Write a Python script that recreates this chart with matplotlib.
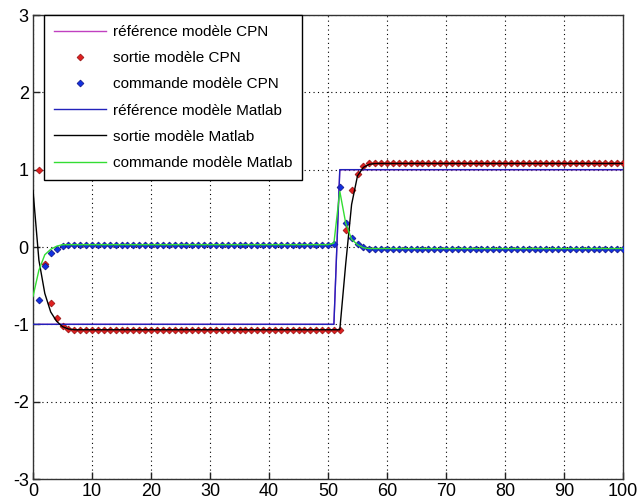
import matplotlib
matplotlib.use("Agg")
import matplotlib.pyplot as plt
import numpy as np

# ---- data ----
t_cpn = list(range(1, 101))
t_mat = list(range(0, 101))

ref_cpn = [-1, -1, -1, -1, -1, -1, -1, -1, -1, -1,
           -1, -1, -1, -1, -1, -1, -1, -1, -1, -1,
           -1, -1, -1, -1, -1, -1, -1, -1, -1, -1,
           -1, -1, -1, -1, -1, -1, -1, -1, -1, -1,
           -1, -1, -1, -1, -1, -1, -1, -1, -1, -1,
           -1, 1, 1, 1, 1, 1, 1, 1, 1, 1,
           1, 1, 1, 1, 1, 1, 1, 1, 1, 1,
           1, 1, 1, 1, 1, 1, 1, 1, 1, 1,
           1, 1, 1, 1, 1, 1, 1, 1, 1, 1,
           1, 1, 1, 1, 1, 1, 1, 1, 1, 1]

sortie_cpn = [1.00, -0.22, -0.72, -0.92, -1.02, -1.06, -1.07, -1.07, -1.07, -1.07,
              -1.07, -1.07, -1.07, -1.07, -1.07, -1.07, -1.07, -1.07, -1.07, -1.07,
              -1.07, -1.07, -1.07, -1.07, -1.07, -1.07, -1.07, -1.07, -1.07, -1.07,
              -1.07, -1.07, -1.07, -1.07, -1.07, -1.07, -1.07, -1.07, -1.07, -1.07,
              -1.07, -1.07, -1.07, -1.07, -1.07, -1.07, -1.07, -1.07, -1.07, -1.07,
              -1.07, -1.07, 0.22, 0.74, 0.95, 1.05, 1.08, 1.08, 1.08, 1.08,
              1.08, 1.08, 1.08, 1.08, 1.08, 1.08, 1.08, 1.08, 1.08, 1.08,
              1.08, 1.08, 1.08, 1.08, 1.08, 1.08, 1.08, 1.08, 1.08, 1.08,
              1.08, 1.08, 1.08, 1.08, 1.08, 1.08, 1.08, 1.08, 1.08, 1.08,
              1.08, 1.08, 1.08, 1.08, 1.08, 1.08, 1.08, 1.08, 1.08, 1.08]

commande_cpn = [-0.69, -0.25, -0.08, -0.02, 0.01, 0.03, 0.03, 0.03, 0.03, 0.03,
                0.03, 0.03, 0.03, 0.03, 0.03, 0.03, 0.03, 0.03, 0.03, 0.03,
                0.03, 0.03, 0.03, 0.03, 0.03, 0.03, 0.03, 0.03, 0.03, 0.03,
                0.03, 0.03, 0.03, 0.03, 0.03, 0.03, 0.03, 0.03, 0.03, 0.03,
                0.03, 0.03, 0.03, 0.03, 0.03, 0.03, 0.03, 0.03, 0.03, 0.03,
                0.04, 0.78, 0.31, 0.11, 0.04, 0.00, -0.02, -0.02, -0.02, -0.02,
                -0.02, -0.02, -0.02, -0.02, -0.02, -0.02, -0.02, -0.02, -0.02, -0.02,
                -0.02, -0.02, -0.02, -0.02, -0.02, -0.02, -0.02, -0.02, -0.02, -0.02,
                -0.02, -0.02, -0.02, -0.02, -0.02, -0.02, -0.02, -0.02, -0.02, -0.02,
                -0.02, -0.02, -0.02, -0.02, -0.02, -0.02, -0.02, -0.02, -0.02, -0.02]

ref_mat = [-1,
           -1, -1, -1, -1, -1, -1, -1, -1, -1, -1,
           -1, -1, -1, -1, -1, -1, -1, -1, -1, -1,
           -1, -1, -1, -1, -1, -1, -1, -1, -1, -1,
           -1, -1, -1, -1, -1, -1, -1, -1, -1, -1,
           -1, -1, -1, -1, -1, -1, -1, -1, -1, -1,
           -1, 1, 1, 1, 1, 1, 1, 1, 1, 1,
           1, 1, 1, 1, 1, 1, 1, 1, 1, 1,
           1, 1, 1, 1, 1, 1, 1, 1, 1, 1,
           1, 1, 1, 1, 1, 1, 1, 1, 1, 1,
           1, 1, 1, 1, 1, 1, 1, 1, 1, 1]

sortie_mat = [0.73,
              -0.17, -0.60, -0.84, -0.96, -1.03, -1.06, -1.07, -1.07, -1.07, -1.07,
              -1.07, -1.07, -1.07, -1.07, -1.07, -1.07, -1.07, -1.07, -1.07, -1.07,
              -1.07, -1.07, -1.07, -1.07, -1.07, -1.07, -1.07, -1.07, -1.07, -1.07,
              -1.07, -1.07, -1.07, -1.07, -1.07, -1.07, -1.07, -1.07, -1.07, -1.07,
              -1.07, -1.07, -1.07, -1.07, -1.07, -1.07, -1.07, -1.07, -1.07, -1.07,
              -1.07, -1.07, -0.22, 0.55, 0.92, 1.03, 1.07, 1.08, 1.08, 1.08,
              1.08, 1.08, 1.08, 1.08, 1.08, 1.08, 1.08, 1.08, 1.08, 1.08,
              1.08, 1.08, 1.08, 1.08, 1.08, 1.08, 1.08, 1.08, 1.08, 1.08,
              1.08, 1.08, 1.08, 1.08, 1.08, 1.08, 1.08, 1.08, 1.08, 1.08,
              1.08, 1.08, 1.08, 1.08, 1.08, 1.08, 1.08, 1.08, 1.08, 1.08]

commande_mat = [-0.64,
                -0.30, -0.10, -0.03, 0.01, 0.03, 0.03, 0.03, 0.03, 0.03, 0.03,
                0.03, 0.03, 0.03, 0.03, 0.03, 0.03, 0.03, 0.03, 0.03, 0.03,
                0.03, 0.03, 0.03, 0.03, 0.03, 0.03, 0.03, 0.03, 0.03, 0.03,
                0.03, 0.03, 0.03, 0.03, 0.03, 0.03, 0.03, 0.03, 0.03, 0.03,
                0.03, 0.03, 0.03, 0.03, 0.03, 0.03, 0.03, 0.03, 0.03, 0.03,
                0.05, 0.72, 0.31, 0.10, 0.03, -0.01, -0.02, -0.02, -0.02, -0.02,
                -0.02, -0.02, -0.02, -0.02, -0.02, -0.02, -0.02, -0.02, -0.02, -0.02,
                -0.02, -0.02, -0.02, -0.02, -0.02, -0.02, -0.02, -0.02, -0.02, -0.02,
                -0.02, -0.02, -0.02, -0.02, -0.02, -0.02, -0.02, -0.02, -0.02, -0.02,
                -0.02, -0.02, -0.02, -0.02, -0.02, -0.02, -0.02, -0.02, -0.02, -0.02]

labels = ["référence modèle CPN", "sortie modèle CPN", "commande modèle CPN",
          "référence modèle Matlab", "sortie modèle Matlab", "commande modèle Matlab"]
x_ticks = [0, 10, 20, 30, 40, 50, 60, 70, 80, 90, 100]
y_ticks = [-3, -2, -1, 0, 1, 2, 3]

# ---- figure ----
plt.rcParams['font.family'] = ['Liberation Sans', 'DejaVu Sans']
fig = plt.figure(figsize=(6.37, 5.04), dpi=100)
ax = fig.add_axes([33 / 637, 25 / 504, 590 / 637, 464 / 504])

ax.plot(t_cpn, ref_cpn, color='#c040c0', lw=1.0, label=labels[0], zorder=2)
ax.plot(t_cpn, sortie_cpn, ls='none', marker='D', ms=3.5, mfc='#e02020',
        mec='#901010', mew=0.5, label=labels[1], zorder=3)
ax.plot(t_cpn, commande_cpn, ls='none', marker='D', ms=3.5, mfc='#1030e0',
        mec='#101080', mew=0.5, label=labels[2], zorder=3)
ax.plot(t_mat, ref_mat, color='#2222bb', lw=1.0, label=labels[3], zorder=4)
ax.plot(t_mat, sortie_mat, color='black', lw=1.0, label=labels[4], zorder=4)
ax.plot(t_mat, commande_mat, color='#33dd33', lw=1.0, label=labels[5], zorder=4)

ax.set_xlim(0, 100)
ax.set_ylim(-3, 3)
ax.set_xticks(x_ticks)
ax.set_yticks(y_ticks)
tick_font = ['Liberation Sans Narrow', 'Liberation Sans', 'DejaVu Sans']
ax.set_xticklabels([str(v) for v in x_ticks], family=tick_font, fontsize=13)
ax.set_yticklabels([str(v) for v in y_ticks], family=tick_font, fontsize=13)
ax.tick_params(direction='in', length=5, width=1, color='#222222', pad=3)
ax.grid(True, color='black', linestyle=(0, (1, 3)), linewidth=0.8)
for s in ax.spines.values():
    s.set_color('#333333')
    s.set_linewidth(1.0)

leg = ax.legend(loc='upper left', bbox_to_anchor=(11 / 590, 1.0),
                borderaxespad=0, fontsize=11, frameon=True, fancybox=False,
                framealpha=1, edgecolor='black', handlelength=3.4,
                handletextpad=0.45, labelspacing=0.8, borderpad=0.65)
leg.get_frame().set_linewidth(1.0)
leg.set_zorder(10)

fig.savefig('out.png', dpi=100)
